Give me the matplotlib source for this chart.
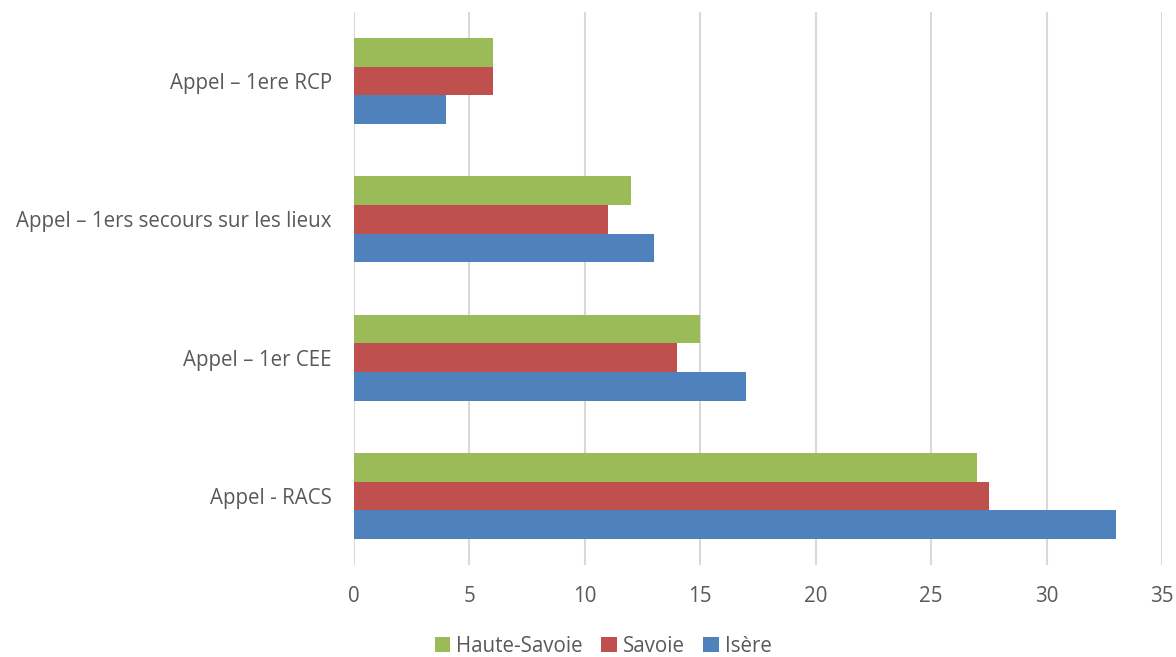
import matplotlib.pyplot as plt
import numpy as np

plt.rcParams['font.family'] = ['Open Sans', 'DejaVu Sans']

categories = ['Appel - RACS', 'Appel – 1er CEE', 'Appel – 1ers secours sur les lieux', 'Appel – 1ere RCP']
isere = [33, 17, 13, 4]
savoie = [27.5, 14, 11, 6]
haute_savoie = [27, 15, 12, 6]

series = [('Isère', isere, '#4F81BD'),
          ('Savoie', savoie, '#C0504D'),
          ('Haute-Savoie', haute_savoie, '#9BBB59')]

fig = plt.figure(figsize=(11.76, 6.57), dpi=100)
ax = fig.add_axes([354/1176, 1 - 565/657, (1162-354)/1176, (565-12)/657])

y = np.arange(len(categories))
h = 0.207
for i, (name, vals, col) in enumerate(series):
    ax.barh(y + (i - 1) * h, vals, height=h, color=col, label=name, zorder=3)

ax.set_xlim(0, 35)
ax.set_ylim(-0.5, 3.5)
ax.set_xticks(range(0, 36, 5))
ax.set_yticks(y)
ax.set_yticklabels(categories)
ax.grid(axis='x', color='#D9D9D9', linewidth=1.5, zorder=0)
for s in ax.spines.values():
    s.set_visible(False)
ax.tick_params(length=0, labelsize=14.8, colors='#595959')
ax.tick_params(axis='x', pad=15)
ax.tick_params(axis='y', pad=16)

handles, labels = ax.get_legend_handles_labels()
fig.legend(handles[::-1], labels[::-1], loc='center', bbox_to_anchor=(0.513, 1 - 646/657),
           ncol=3, frameon=False, fontsize=14.8, labelcolor='#595959',
           handlelength=0.75, handleheight=0.75, handletextpad=0.3, columnspacing=0.9)

fig.savefig('out.png', dpi=100, facecolor='white')
